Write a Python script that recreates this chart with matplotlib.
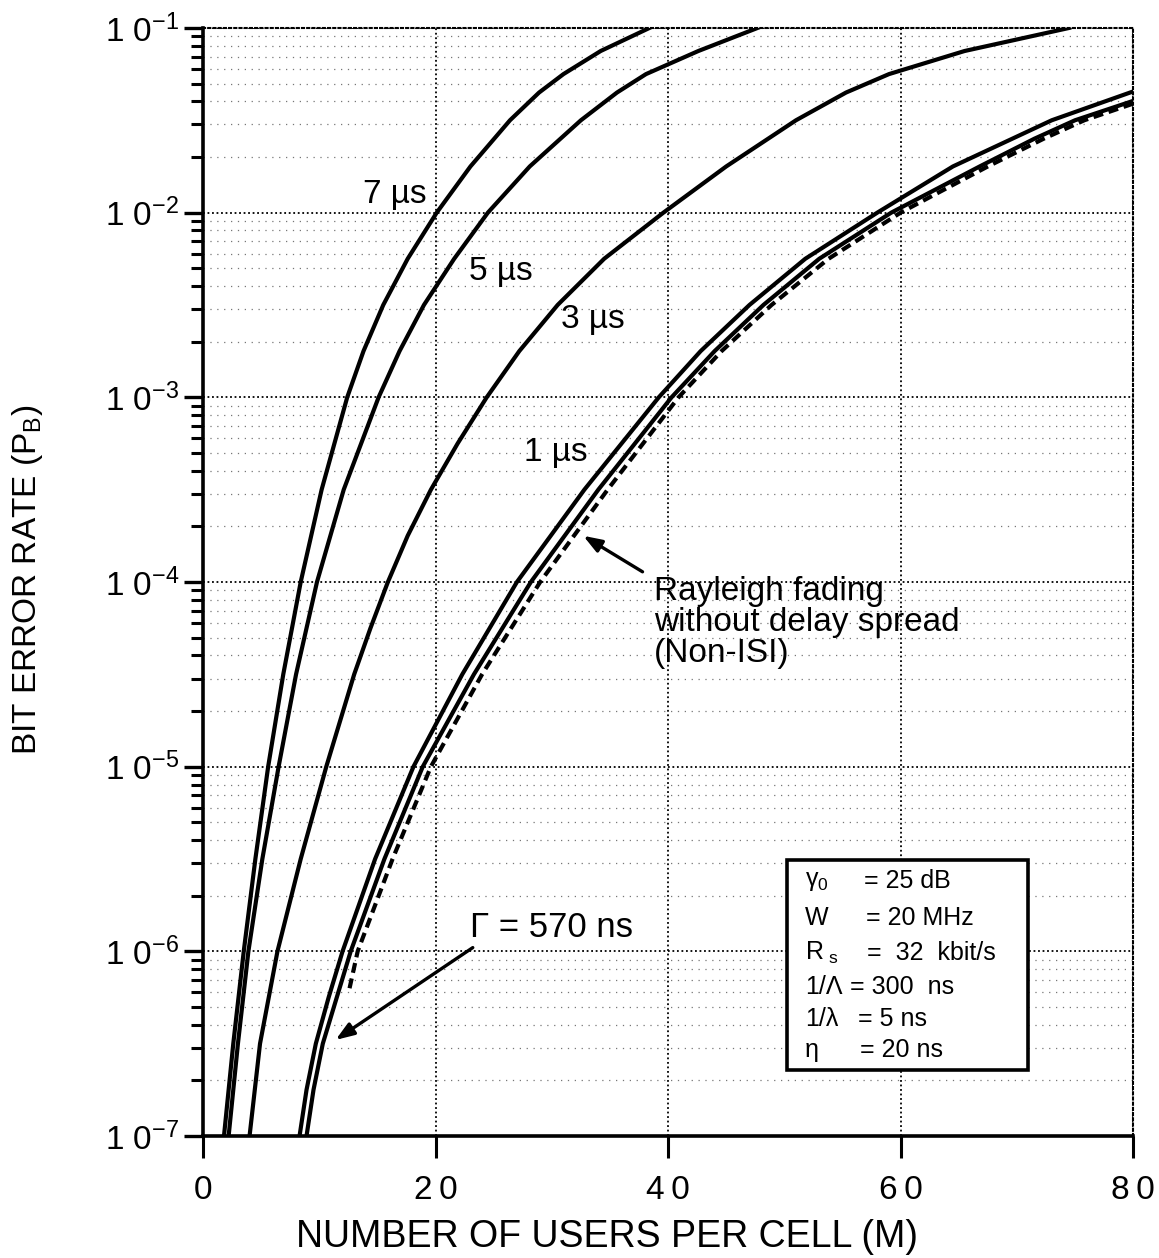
import matplotlib

matplotlib.use("Agg")
import matplotlib.pyplot as plt
import numpy as np
from matplotlib.patches import Rectangle
from matplotlib.ticker import FixedFormatter, FixedLocator, LogLocator, NullFormatter

plt.rcParams["font.family"] = ["Liberation Sans", "DejaVu Sans"]
plt.rcParams["mathtext.fontset"] = "custom"
plt.rcParams["mathtext.rm"] = "Liberation Sans"
plt.rcParams["mathtext.it"] = "Liberation Sans:italic"
plt.rcParams["mathtext.bf"] = "Liberation Sans:bold"

# curves: users per cell (M) vs log10 of bit error rate
m_7us = [1.8, 2.6, 3.5, 4.5, 5.6, 6.9, 8.4, 10.2, 12.4, 13.8, 15.5, 17.6, 20.1, 23.0, 26.4, 28.9, 31.0, 34.2, 38.4]
lg_7us = [-7, -6.5, -6, -5.5, -5, -4.5, -4, -3.5, -3, -2.75, -2.5, -2.25, -2, -1.75, -1.5, -1.35, -1.25, -1.125, -1]

m_5us = [2.2, 3.0, 3.9, 5.1, 6.5, 8.0, 9.8, 12.1, 15.1, 16.9, 19.0, 21.6, 24.5, 28.1, 32.5, 35.6, 38.1, 42.6, 47.7]
lg_5us = [-7, -6.5, -6, -5.5, -5, -4.5, -4, -3.5, -3, -2.75, -2.5, -2.25, -2, -1.75, -1.5, -1.35, -1.25, -1.125, -1]

m_3us = [4.0, 4.9, 6.4, 8.4, 10.6, 11.8, 13.0, 14.4, 15.9, 17.6, 19.6, 21.9, 24.4, 27.2, 30.5, 34.5, 39.6,
         45.0, 51.0, 55.3, 59.0, 65.5, 74.5]
lg_3us = [-7, -6.5, -6, -5.5, -5, -4.75, -4.5, -4.25, -4, -3.75, -3.5, -3.25, -3, -2.75, -2.5, -2.25, -2,
          -1.75, -1.5, -1.35, -1.25, -1.125, -1]

m_1us = [8.3, 8.9, 9.7, 10.8, 12.0, 14.8, 18.1, 22.3, 27.0, 32.8, 39.2, 42.8, 47.0, 51.8, 58.0, 64.5, 73.0, 80.0]
lg_1us = [-7, -6.75, -6.5, -6.25, -6, -5.5, -5, -4.5, -4, -3.5, -3, -2.75, -2.5, -2.25, -2, -1.75, -1.5, -1.344]

m_570ns = [8.9, 9.5, 10.3, 11.5, 12.7, 15.6, 18.9, 23.3, 28.2, 34.0, 40.3, 44.0, 48.2, 53.0, 59.2, 66.8, 71.5, 75.0, 80.0]
lg_570ns = [-7, -6.75, -6.5, -6.25, -6, -5.5, -5, -4.5, -4, -3.5, -3, -2.75, -2.5, -2.25, -2, -1.75, -1.6, -1.5, -1.395]

m_nonisi = [12.6, 13.3, 16.3, 19.6, 24.0, 29.0, 34.8, 40.9, 44.6, 48.9, 53.8, 60.0, 67.5, 72.3, 75.8, 80.0]
lg_nonisi = [-6.2, -6, -5.5, -5, -4.5, -4, -3.5, -3, -2.75, -2.5, -2.25, -2, -1.75, -1.6, -1.5, -1.41]

x_ticks = [0, 20, 40, 60, 80]
x_tick_labels = ["0", "2\u20090", "4\u20090", "6\u20090", "8\u20090"]
y_ticks = [1e-7, 1e-6, 1e-5, 1e-4, 1e-3, 1e-2, 1e-1]
y_tick_labels = [r"$\mathregular{1\ 0^{-%d}}$" % k for k in (7, 6, 5, 4, 3, 2, 1)]

param_names = [r"$\mathregular{\gamma_0}$", "W", r"$\mathregular{R_{\ s}}$", "1/\u039b", "1/\u03bb", "\u03b7"]
param_values = ["= 25 dB", "= 20 MHz", "=  32  kbit/s", "= 300  ns", "= 5 ns", "= 20 ns"]

fig = plt.figure(figsize=(11.59, 12.58), dpi=100)
ax = fig.add_axes([0.1752, 0.097, 0.8025, 0.8808])
ax.set_yscale("log")
ax.set_xlim(0, 80)
ax.set_ylim(1e-7, 1e-1)

# grid: dense dots on decades, sparse faint dots on minor log lines
for yv in y_ticks[1:]:
    ax.axhline(yv, color="black", lw=1.3, ls=(0, (1, 1.5)), zorder=1)
for dec in range(-7, -1):
    for k in range(2, 10):
        ax.axhline(k * 10.0**dec, color="#777777", lw=0.9, ls=(0, (1, 4.5)), zorder=1)
for xv in x_ticks[1:]:
    ax.axvline(xv, color="black", lw=1.3, ls=(0, (1, 1.5)), zorder=1)

curve_kw = dict(color="black", lw=3.0, solid_joinstyle="round", zorder=3)
ax.plot(m_7us, 10.0 ** np.array(lg_7us), **curve_kw)
ax.plot(m_5us, 10.0 ** np.array(lg_5us), **curve_kw)
ax.plot(m_3us, 10.0 ** np.array(lg_3us), **curve_kw)
ax.plot(m_1us, 10.0 ** np.array(lg_1us), **curve_kw)
ax.plot(m_570ns, 10.0 ** np.array(lg_570ns), **curve_kw)
ax.plot(m_nonisi, 10.0 ** np.array(lg_nonisi), color="black", lw=3.0, ls=(0, (2.4, 1.4)), zorder=3)

lab_kw = dict(fontsize=24, ha="center", va="center", zorder=4)
ax.text(16.5, 10**-1.904, "7 \u00b5s", **lab_kw)
ax.text(25.6, 10**-2.32, "5 \u00b5s", **lab_kw)
ax.text(33.5, 10**-2.58, "3 \u00b5s", **lab_kw)
ax.text(30.3, 10**-3.30, "1 \u00b5s", **lab_kw)

ax.text(38.8, 10**-3.97, "Rayleigh fading\nwithout delay spread\n(Non-ISI)",
        fontsize=24, ha="left", va="top", linespacing=1.0, zorder=4)
arrow = dict(arrowstyle="-|>,head_length=1.1,head_width=0.4", color="black", lw=2.4,
             shrinkA=0, shrinkB=0)
ax.annotate("", xy=(32.7, 10**-3.75), xytext=(37.8, 10**-3.945), arrowprops=arrow, zorder=5)

ax.text(23.0, 10**-5.87, "\u0393 = 570 ns", fontsize=25, ha="left", va="center", zorder=4)
ax.annotate("", xy=(11.4, 10**-6.48), xytext=(23.2, 10**-5.98), arrowprops=arrow, zorder=5)

# parameter box (pixel positions of the reference converted to axes fractions)
box_l, box_r, box_t, box_b = 787, 1028, 860, 1070
ax.add_patch(Rectangle(((box_l - 203) / 930, (1136 - box_b) / 1108),
                       (box_r - box_l) / 930, (box_b - box_t) / 1108, transform=ax.transAxes,
                       facecolor="white", edgecolor="black", lw=2.6, zorder=6))
row_px = [881, 918, 953, 987, 1019, 1050]
eq_px = [864, 866, 867, 850, 858, 860]
for name, val, ypx, xpx in zip(param_names, param_values, row_px, eq_px):
    yy = (1136 - ypx) / 1108
    ax.text((805 - 203) / 930, yy, name, transform=ax.transAxes, fontsize=18,
            ha="left", va="center", zorder=7)
    ax.text((xpx - 203) / 930, yy, val, transform=ax.transAxes, fontsize=18,
            ha="left", va="center", zorder=7)

# axes frame: solid left/bottom, dotted top/right
ax.spines["left"].set_linewidth(2.6)
ax.spines["bottom"].set_linewidth(2.6)
for s in ("top", "right"):
    ax.spines[s].set_linestyle((0, (1, 1.5)))
    ax.spines[s].set_linewidth(1.5)

ax.xaxis.set_major_locator(FixedLocator(x_ticks))
ax.xaxis.set_major_formatter(FixedFormatter(x_tick_labels))
ax.yaxis.set_major_locator(FixedLocator(y_ticks))
ax.yaxis.set_major_formatter(FixedFormatter(y_tick_labels))
ax.yaxis.set_minor_locator(LogLocator(base=10, subs=np.arange(2, 10), numticks=20))
ax.yaxis.set_minor_formatter(NullFormatter())
ax.tick_params(axis="x", direction="out", length=16, width=2.2, pad=12, labelsize=24)
ax.tick_params(axis="y", which="major", direction="out", length=14, width=2.4, pad=3, labelsize=24)
ax.tick_params(axis="y", which="minor", direction="out", length=9, width=2.2)

fig.text(607 / 1159, 1 - 1237 / 1258, "NUMBER OF USERS PER CELL (M)", fontsize=27,
         ha="center", va="center")
fig.text(28 / 1159, 1 - 580 / 1258, r"BIT ERROR RATE (P$\mathregular{_B}$)", fontsize=24,
         ha="center", va="center", rotation=90)

fig.savefig("out.png", dpi=100, facecolor="white")
plt.close(fig)
